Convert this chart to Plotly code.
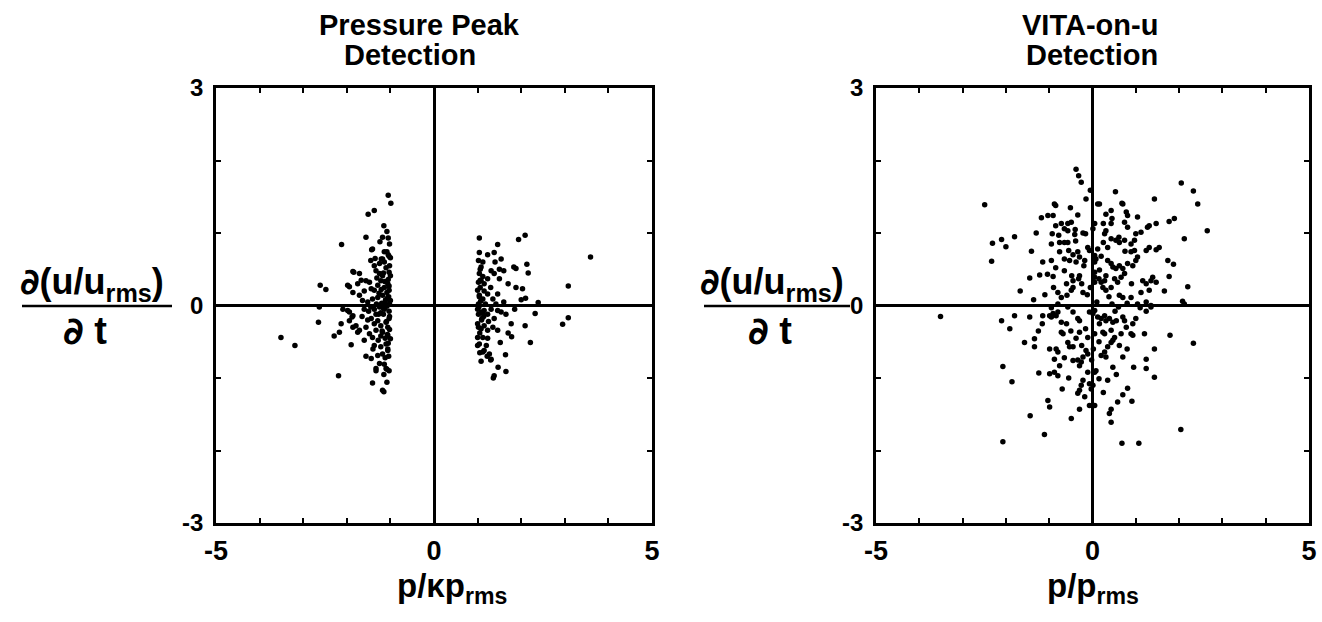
import plotly.graph_objects as go

# ---------------- data ----------------
# Left panel: Pressure Peak Detection, negative-peak cluster
pp_neg_x = [-1.05,-0.99,-1.51,-1.37,-2.12,-1.56,-1.18,-1.05,-1.43,-1.08,-1.21,-1.00,-2.61,-2.48,-1.86,-1.94,
            -3.51,-3.19,-2.65,-2.63,-2.13,-2.17,-2.29,-1.90,-2.19,-1.41,-1.08,-1.18,-1.15,-1.33,-1.08,-1.56,
            -1.44,-1.86,-1.75,-1.94,-1.88,-2.09,
            -1.41,-1.14,-1.03,-1.18,-1.14,-1.37,-1.33,-1.25,-1.18,-1.03,-1.00,-1.84,-1.71,-1.67,-1.75,-1.56,
            -1.48,-1.44,-1.37,-1.29,-1.22,-1.14,-1.06,-1.03,-1.98,-1.86,-1.71,-1.64,-1.52,-1.41,-1.29,-1.18,
            -1.06,-1.00,-1.60,-1.50,-1.37,-1.25,-1.14,-1.03,-1.22,-1.33,-1.98,-1.86,-1.94,-1.79,-1.71,-1.56,
            -1.44,-1.37,-1.29,-1.22,-1.10,-1.03,-1.06,-1.48,-1.41,-1.33,-1.18,-1.06,-1.00,-1.60,-1.37,-1.22,
            -1.10,-1.06,-1.18,-1.29,-1.33,-1.10,-1.14,
            -1.02,-1.08,-1.12,-1.16,-1.20,-1.26,-1.05,-1.10,-1.25,-1.31,-1.02,-1.05,-1.12,-1.28,-1.04,-1.15,
            -1.02,-1.45,-1.60,-1.52,-1.65,-1.40,-1.02,-1.08,-1.32,-1.45,-1.22,-1.35,-1.02,-1.08,-1.15,-1.24,
            -1.03,-1.25,-1.04,-1.09,-1.13,-1.19,-1.06,-1.11,-1.17,-1.03,-1.07,-1.21,-1.27,-1.12,-1.05,-1.16]
pp_neg_y = [1.52,1.41,1.26,1.31,0.84,0.94,0.94,0.93,0.77,0.74,0.64,0.66,0.28,0.22,0.47,0.26,
            -0.44,-0.55,-0.23,-0.02,-0.25,-0.37,-0.42,-0.54,-0.97,-1.07,-1.06,-1.17,-1.19,-0.90,-0.88,-0.70,
            -0.73,-0.30,-0.37,-0.09,-0.16,-0.05,
            0.78,0.74,0.68,0.64,0.60,0.55,0.48,0.44,0.41,0.46,0.41,0.46,0.44,0.35,0.30,0.34,
            0.32,0.23,0.21,0.28,0.34,0.25,0.30,0.21,0.28,0.18,0.14,0.07,0.05,0.09,0.11,0.14,
            0.11,0.07,-0.05,-0.08,-0.05,-0.02,-0.05,-0.08,-0.10,-0.12,-0.07,-0.14,-0.21,-0.28,-0.34,-0.30,
            -0.18,-0.25,-0.21,-0.28,-0.23,-0.18,-0.30,-0.39,-0.44,-0.34,-0.37,-0.41,-0.46,-0.48,-0.55,-0.57,
            -0.53,-0.62,-0.67,-0.69,-0.87,-0.87,-0.81,
            0.02,-0.01,0.05,-0.12,0.03,0.17,0.36,0.52,0.58,0.38,-0.33,-0.52,-0.45,-0.48,-0.70,-0.95,
            0.55,0.62,0.20,-0.20,-0.15,-0.60,-0.15,0.18,0.02,-0.02,-0.42,0.65,0.85,1.02,1.10,0.88,
            -0.90,-0.80,0.12,-0.22,0.33,-0.35,-0.60,0.08,-0.03,0.27,-0.40,0.22,-0.12,-0.72,0.70,0.45]

# Left panel: positive-peak cluster
pp_pos_x = [1.04,1.46,1.94,2.09,1.04,1.23,1.38,1.54,2.13,2.16,3.59,3.08,3.08,2.95,2.32,2.39,
            2.21,2.09,1.77,1.64,1.47,1.65,1.36,1.08,1.12,1.22,1.30,1.04,1.00,1.52,1.78,1.70,
            1.88,2.03,1.83,1.88,1.50,1.60,2.10,2.00,
            1.12,1.08,1.31,1.38,1.50,1.04,1.08,1.15,1.23,1.00,1.04,1.12,1.23,1.35,1.46,1.42,
            1.00,1.08,1.15,1.23,1.31,1.46,1.54,1.38,1.00,1.08,1.15,1.23,1.35,1.46,1.12,1.23,
            1.00,1.15,1.27,1.31,1.38,
            1.02,1.06,1.10,1.05,1.18,1.12,1.02,1.05,1.20,1.30,1.60,1.70,1.65,1.85,1.02,1.15,
            1.06,1.25,1.02,1.40,1.03,1.07,1.11,1.04,1.09,1.02,1.14,1.06]
pp_pos_y = [0.93,0.84,0.91,0.97,0.73,0.70,0.73,0.64,0.57,0.45,0.67,0.27,-0.17,-0.26,-0.11,0.04,
            -0.51,-0.28,-0.25,-0.68,-0.85,-0.91,-1.00,-0.77,-0.64,-0.70,-0.75,-0.53,-0.44,-0.51,-0.43,-0.38,
            0.25,0.23,0.53,0.51,0.50,0.48,0.10,0.08,
            0.60,0.53,0.48,0.44,0.37,0.44,0.34,0.30,0.37,0.21,0.14,0.09,0.16,0.09,0.16,0.02,
            -0.05,-0.09,-0.07,-0.12,-0.05,-0.07,-0.09,-0.18,-0.25,-0.32,-0.28,-0.34,-0.30,-0.34,-0.44,-0.45,
            -0.55,-0.62,-0.67,-0.74,-0.97,
            0.02,0.25,-0.18,-0.38,0.02,0.40,0.62,-0.65,-0.55,0.25,0.05,0.30,-0.12,-0.05,-0.12,0.20,
            0.50,-0.22,0.32,0.60,-0.02,0.06,-0.10,0.12,-0.20,-0.30,-0.15,0.35]

# Right panel: VITA-on-u Detection
vita_x = [-2.49,-2.31,-2.10,-2.00,-1.80,-2.33,-1.41,-1.67,-1.45,-1.22,-1.04,-1.36,
          -1.18,-1.03,-0.91,-0.85,-0.51,-0.34,-0.26,-0.15,-0.05,
          -0.85,-0.72,-0.57,-0.49,-0.65,-0.57,-0.93,-0.78,-0.41,-0.22,
          -0.76,-0.65,-0.57,-0.39,-0.76,-0.55,-0.45,-0.34,-0.30,
          -0.65,-0.53,-0.38,-0.95,-1.15,-0.85,-0.65,
          -0.48,-0.45,-0.45,-0.49,-0.30,-0.32,
          -0.80,-0.72,-0.59,-0.22,-0.11,-0.07,-0.16,
          0.05,0.01,0.05,0.08,0.05,0.05,0.05,0.05,
          0.12,0.16,0.15,0.20,0.25,0.31,0.28,0.31,0.43,0.45,0.53,0.43,
          0.25,0.35,0.43,0.54,0.62,
          0.47,0.54,0.62,0.70,0.81,0.93,1.00,1.04,
          0.35,0.43,0.31,0.28,0.24,0.31,0.43,
          0.51,0.58,0.66,0.74,0.62,0.70,
          0.70,0.78,0.81,0.74,0.81,0.61,0.74,
          0.89,0.97,1.00,1.12,1.27,1.31,1.43,1.47,
          1.24,1.31,0.89,0.97,
          1.16,1.24,1.35,1.39,1.12,1.31,
          0.89,1.04,1.24,1.35,
          2.05,2.33,2.43,2.65,2.12,1.77,1.89,
          1.54,1.47,1.74,1.87,1.77,1.66,2.20,2.08,2.12,
          1.47,1.35,1.24,1.79,2.33,1.43,
          -0.38,-0.32,0.16,0.68,1.04,-0.88,
          -3.51,-2.10,-1.91,-1.80,-1.57,-1.45,-1.34,-1.15,-1.16,-0.99,-0.91,-0.80,-0.72,-0.57,-0.53,-0.91,
          -1.34,-2.07,-1.86,-1.24,-0.84,-0.95,-0.72,-0.68,
          -0.99,-0.84,-0.80,-0.88,-0.76,-0.65,-0.99,-0.88,-0.80,
          -0.45,-0.45,-0.34,-0.26,-0.30,-0.22,
          -0.45,-0.34,-0.30,-0.30,-0.16,-0.11,-0.15,-0.11,
          -0.22,-0.26,-0.30,-0.34,-0.18,-0.30,
          -0.11,0.05,0.08,0.01,-0.03,-0.07,-0.07,0.05,
          -0.49,-1.03,-0.99,-1.44,-1.11,-2.07,
          -0.07,0.01,0.05,0.12,0.20,0.28,0.16,0.24,0.28,0.05,
          0.31,0.39,0.47,0.55,0.43,0.51,0.47,0.43,
          0.35,0.28,0.20,0.31,0.47,0.35,0.15,
          0.70,0.74,0.78,0.93,1.00,
          0.66,0.89,0.93,1.20,0.70,1.24,1.24,1.43,
          0.81,0.70,0.58,0.43,0.39,0.43,0.91,0.68,1.07,
          2.04,
          -0.57,-0.95,-0.80,0.45,0.60,0.80,1.10,
          -0.20,-0.25,-0.12,0.10,-0.05,0.12,0.20,-0.18,0.38,0.52,-0.60,-0.50,-0.38,-0.25,0.15,0.02,
          -0.02,0.62,0.80,0.55,-0.60,-0.90,-1.10,-1.25,-0.55,-0.70,0.25,0.95,0.90,0.75,-0.40,-0.95,-1.30]
vita_y = [1.39,0.86,0.91,0.81,0.95,0.61,0.75,0.20,0.38,0.42,0.43,0.08,
          1.21,1.24,1.24,1.38,1.35,1.25,1.70,1.47,1.59,
          1.10,1.13,1.13,1.15,1.06,1.03,0.99,0.97,0.98,1.00,
          0.87,0.87,0.87,0.89,0.74,0.76,0.70,0.74,0.67,
          0.64,0.62,0.60,0.62,0.60,0.52,0.48,
          0.41,0.34,0.25,0.21,0.41,0.37,
          0.18,0.11,0.14,0.18,0.80,0.76,0.99,
          1.13,1.06,0.69,0.64,0.60,0.46,0.39,0.32,
          1.40,0.49,0.37,0.32,1.13,1.03,0.99,1.26,1.31,1.20,1.57,1.13,
          0.87,0.80,0.92,0.90,0.87,
          0.53,0.51,0.55,0.51,0.58,0.55,0.62,0.67,
          0.62,0.58,0.41,0.34,0.25,0.21,0.25,
          0.37,0.32,0.39,0.44,0.14,0.11,
          1.40,1.29,1.24,1.15,1.08,0.94,0.90,
          0.85,0.90,0.99,1.01,1.08,1.10,1.47,1.13,
          0.76,0.80,0.74,0.76,
          0.34,0.30,0.34,0.39,0.18,0.21,
          0.11,0.02,0.05,0.00,
          1.69,1.58,1.40,1.03,0.92,1.16,1.20,
          0.80,0.77,0.62,0.57,0.40,0.20,0.26,0.06,0.02,
          0.32,-0.02,-0.08,-0.41,-0.52,-0.60,
          1.88,1.79,1.40,1.41,1.22,1.40,
          -0.15,-0.21,-0.32,-0.14,-0.51,-0.16,-0.46,-0.14,-0.25,-0.14,-0.11,-0.09,-0.37,-0.51,-0.57,0.40,
          -0.57,-0.84,-1.05,-0.93,-0.14,-0.16,-0.23,-0.39,
          -0.60,-0.60,-0.64,-0.74,-0.83,-0.72,-0.94,-0.92,-0.97,
          -0.57,-0.76,-0.75,-0.78,-0.83,-0.71,
          -0.09,-0.18,-0.21,-0.37,-0.32,-0.44,-0.62,-0.67,
          -1.03,-1.10,-1.17,-1.21,-1.26,-1.43,
          -0.92,-0.92,-0.90,-1.10,-1.15,-1.08,-1.38,-1.38,
          -1.56,-1.31,-1.40,-1.52,-1.78,-1.88,
          -0.09,-0.11,-0.07,-0.16,-0.18,-0.14,-0.25,-0.37,-0.39,-0.39,
          -0.21,-0.18,-0.23,-0.21,-0.34,-0.44,-0.48,-0.51,
          -0.57,-0.64,-0.69,-0.71,-0.85,-1.03,-1.01,
          -0.16,-0.21,-0.30,-0.25,-0.18,
          -0.39,-0.39,-0.41,-0.39,-0.71,-0.74,-0.87,-0.99,
          -1.14,-1.23,-1.33,-1.43,-1.49,-1.61,-1.32,-1.90,-1.90,
          -1.71,
          -0.02,-0.03,0.02,0.02,-0.02,0.03,-0.03,
          0.55,0.30,0.15,0.05,0.25,0.78,0.68,0.62,0.12,-0.08,-0.25,-0.35,-0.45,-0.55,-0.50,-0.60,
          -0.75,-0.55,-0.60,-0.95,0.30,0.25,0.15,-0.35,-1.00,-1.15,-1.20,-0.85,0.30,0.75,1.05,0.85,1.00]

x_ticks = [-5, 0, 5]
x_ticktext = ["-5", "0", "5"]
y_ticks = [-3, 0, 3]
y_ticktext = ["-3", "0", "3"]

# ---------------- figure ----------------
W, H = 1322, 622
FONT = "Liberation Sans"

def px(x):
    return x / W

def py(y):
    return 1 - y / H

marker = dict(color="black", size=5.5, line=dict(width=0))
fig = go.Figure()
fig.add_trace(go.Scatter(x=pp_neg_x, y=pp_neg_y, mode="markers", marker=marker, xaxis="x", yaxis="y"))
fig.add_trace(go.Scatter(x=pp_pos_x, y=pp_pos_y, mode="markers", marker=marker, xaxis="x", yaxis="y"))
fig.add_trace(go.Scatter(x=vita_x, y=vita_y, mode="markers", marker=marker, xaxis="x2", yaxis="y2"))

axis_common = dict(showline=True, linecolor="black", linewidth=2.5, mirror="allticks",
                   ticks="inside", ticklen=5, tickwidth=2, tickcolor="black", automargin=False,
                   minor=dict(ticks="inside", dtick=1, tick0=0, ticklen=5, tickwidth=2, tickcolor="black",
                              showgrid=False),
                   showgrid=False, zeroline=True, zerolinecolor="black", zerolinewidth=2.5)
xax = dict(axis_common, range=[-5, 5], tickvals=x_ticks, ticktext=x_ticktext,
           tickfont=dict(family=FONT, size=27, color="black", weight="bold"), ticklabelstandoff=2)
yax = dict(axis_common, range=[-3, 3], tickvals=y_ticks, ticktext=y_ticktext,
           tickfont=dict(family=FONT, size=24, color="black", weight="bold"), ticklabelstandoff=5)

ydom = [py(523), py(88)]
fig.update_layout(
    template="none",
    width=W, height=H, margin=dict(l=0, r=0, t=0, b=0, pad=0), autosize=False,
    paper_bgcolor="white", plot_bgcolor="white", showlegend=False,
    xaxis=dict(xax, domain=[px(216), px(652)], anchor="y"),
    yaxis=dict(yax, domain=ydom, anchor="x"),
    xaxis2=dict(xax, domain=[px(876), px(1309)], anchor="y2"),
    yaxis2=dict(yax, domain=ydom, anchor="x2"),
)

def text(x, y, s, size, xanchor="center"):
    fig.add_annotation(x=px(x), y=py(y), xref="paper", yref="paper", text=s, showarrow=False,
                       xanchor=xanchor, yanchor="middle",
                       font=dict(family=FONT, size=size, color="black", weight="bold"))

# titles
text(419, 25, "Pressure Peak", 29)
text(410, 55, "Detection", 29)
text(1090, 25, "VITA-on-u", 29)
text(1092, 55, "Detection", 29)

# x-axis titles
text(452, 588, "p/κp<sub>rms</sub>", 33)
text(1093, 588, "p/p<sub>rms</sub>", 33)

# y-axis titles (fractions)
D = '<span style="font-family:DejaVu Sans">∂</span>'
for cx, dx, x0, x1 in [(92, 85, 22, 172), (772, 770, 704, 850)]:
    text(cx, 284, D + "(u/u<sub>rms</sub>)", 36)
    text(dx, 331, D + " t", 38)
    fig.add_shape(type="line", xref="paper", yref="paper", x0=px(x0), x1=px(x1),
                  y0=py(306), y1=py(306), line=dict(color="black", width=2.5))

fig.write_html("out.html", config={"displayModeBar": False},
               post_script="document.body.style.margin='0px';")
